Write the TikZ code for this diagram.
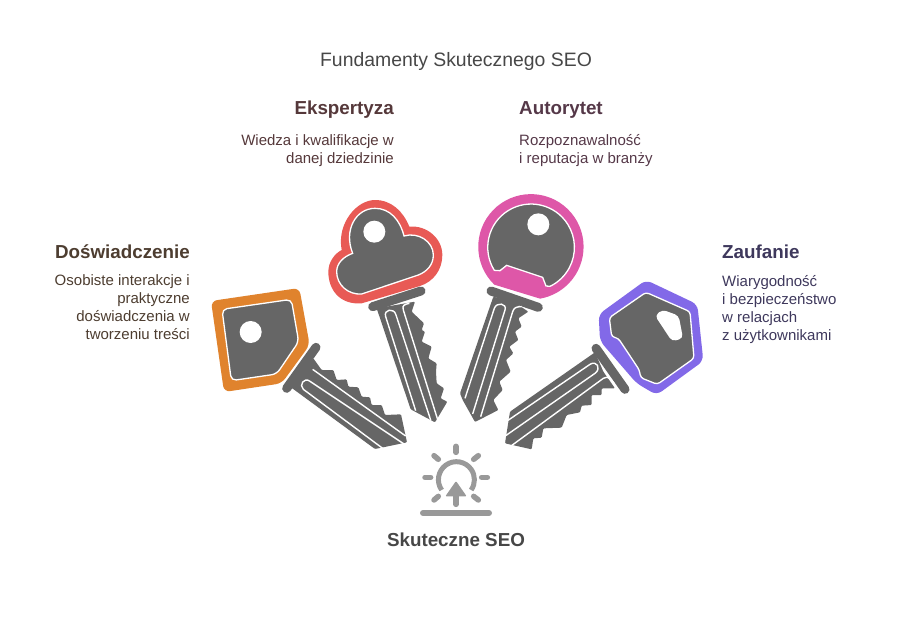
\documentclass[tikz,border=0pt]{standalone}
\usepackage{fontspec}
\setmainfont{Liberation Sans}
\usetikzlibrary{positioning}
\definecolor{keygrey}{HTML}{666666}
\definecolor{signgrey}{HTML}{999999}
\definecolor{orangerim}{HTML}{E0832D}
\definecolor{redrim}{HTML}{E85A55}
\definecolor{pinkrim}{HTML}{DE57A8}
\definecolor{purplerim}{HTML}{8269E8}
\tikzset{
  blade/.style={fill=keygrey, rounded corners=1pt},
  bow/.style={fill=keygrey, draw=white, line width=1.3pt},
  groove/.style={draw=white, line width=1.4pt},
  collar/.style={draw=keygrey, line width=9pt, line cap=round},
  eyelet/.style={fill=white},
  ray/.style={draw=signgrey, line width=5.5pt, line cap=round},
  head/.style={font=\fontsize{18.8}{22}\selectfont\bfseries},
  descr/.style={font=\fontsize{15}{18}\selectfont}
}
\begin{document}
\begin{tikzpicture}[x=1pt, y=-1pt]
    \useasboundingbox (0, 0) rectangle (912, 624);
    \node[anchor=base, text=black!72, font=\fontsize{19.4}{22}\selectfont] (ndTitle) at (456, 66) {Fundamenty Skutecznego SEO};

    % left key
    \begin{scope}[shift={(200, 280)}, scale=1/3]
      \fill[orangerim, rounded corners=6pt] (33, 63) -- (298, 24) -- (329, 195) -- (245, 310) -- (72, 336) -- cycle;
      \draw[bow, rounded corners=5pt] (66, 88) -- (274, 58) -- (296, 185) -- (230, 282) -- (94, 302) -- cycle;
      \fill[eyelet] (152, 156) circle (33);
      \fill[blade] (340, 235) -- (365, 270) -- (400, 270) -- (410, 300) -- (440, 298) -- (445, 320) -- (475, 322) -- (485, 350) -- (510, 352) -- (515, 375) -- (545, 375) -- (555, 405) -- (603, 403) -- (621, 487) -- (525, 507) -- (270, 320) -- cycle;
      \draw[collar] (348, 202) -- (260, 325);
      \draw[groove] (548, 505) -- (310, 328) .. controls (296, 316) and (312, 290) .. (330, 304) -- (612, 492);
      \draw[groove] (338, 268) -- (617, 468);
    \end{scope}

    % upper left key
    \begin{scope}[shift={(320, 190)}, scale=1/3]
      \fill[redrim] (125, 340) .. controls (60, 345) and (25, 300) .. (25, 245) .. controls (25, 215) and (45, 190) .. (65, 180) .. controls (50, 100) and (110, 30) .. (165, 30) .. controls (215, 30) and (250, 65) .. (268, 110) .. controls (320, 105) and (367, 145) .. (367, 195) .. controls (367, 240) and (340, 275) .. (300, 288) -- cycle;
      \draw[bow] (125, 312) .. controls (85, 315) and (50, 285) .. (50, 245) .. controls (50, 220) and (70, 200) .. (98, 190) .. controls (70, 120) and (108, 55) .. (165, 55) .. controls (210, 55) and (240, 90) .. (252, 138) .. controls (295, 125) and (340, 155) .. (340, 195) .. controls (340, 225) and (320, 245) .. (295, 255) -- cycle;
      \fill[eyelet] (163, 125) circle (33);
      \fill[blade] (170, 355) -- (272, 658) -- (345, 697) -- (382, 635) -- (362, 625) -- (372, 595) -- (350, 580) -- (348, 545) -- (350, 520) -- (325, 505) -- (335, 470) -- (305, 455) -- (315, 425) -- (305, 420) -- (312, 400) -- (275, 365) -- (285, 335) -- cycle;
      \draw[collar] (158, 350) -- (303, 303);
      \draw[groove] (287, 662) -- (197, 380) .. controls (190, 358) and (222, 352) .. (228, 375) -- (332, 690);
      \draw[groove] (268, 340) .. controls (255, 343) and (245, 345) .. (250, 360) -- (354, 692);
    \end{scope}

    % upper right key
    \begin{scope}[shift={(450, 190)}, scale=1/3]
      \fill[pinkrim] (133, 284) arc[start angle=134, end angle=440, radius=158] -- cycle;
      \draw[bow] (133, 241) arc[start angle=148, end angle=424, radius=130] -- (288, 288) -- (278, 262) -- (170, 226) -- (150, 242) -- cycle;
      \fill[eyelet] (265, 103) circle (33);
      \fill[blade] (130, 320) -- (30, 610) -- (38, 630) -- (75, 696) -- (145, 660) -- (130, 630) -- (158, 600) -- (148, 575) -- (182, 545) -- (168, 510) -- (190, 490) -- (178, 470) -- (205, 450) -- (195, 425) -- (215, 410) -- (205, 385) -- (235, 365) -- (190, 335) -- cycle;
      \draw[collar] (123, 303) -- (265, 352);
      \draw[groove] (45, 625) -- (133, 355) .. controls (140, 335) and (172, 340) .. (165, 360) -- (68, 672);
      \draw[groove] (215, 350) .. controls (200, 350) and (192, 352) .. (188, 365) -- (92, 680);
    \end{scope}

    % right key
    \begin{scope}[shift={(500, 275)}, scale=1/3]
      \fill[purplerim, rounded corners=6pt] (296, 118) -- (438, 15) -- (592, 88) -- (610, 258) -- (470, 360) -- (410, 325) -- (300, 198) -- cycle;
      \draw[bow, rounded corners=3pt] (328, 128) -- (438, 52) -- (570, 110) -- (582, 250) -- (472, 328) -- (422, 308) -- (418, 285) -- (355, 190) -- (335, 185) -- cycle;
      \fill[eyelet, rounded corners=4pt] (465, 122) -- (487, 104) -- (536, 122) -- (549, 190) -- (516, 199) -- cycle;
      \fill[blade] (285, 232) -- (30, 410) -- (15, 505) -- (95, 523) -- (100, 490) -- (125, 488) -- (130, 460) -- (185, 458) -- (200, 420) -- (240, 412) -- (245, 392) -- (275, 390) -- (275, 360) -- (305, 360) -- (305, 340) -- (345, 340) -- (310, 290) -- cycle;
      \draw[collar] (288, 220) -- (375, 343);
      \draw[groove] (24, 436) -- (270, 268) .. controls (290, 255) and (305, 280) .. (285, 295) -- (17, 482);
      \draw[groove] (33, 513) -- (310, 310) .. controls (325, 300) and (335, 315) .. (342, 325);
    \end{scope}

    % sign at the bottom
    \begin{scope}[shift={(380, 435)}, scale=1/3]
      \draw[signgrey, line width=5pt] (185, 165) arc[start angle=145, end angle=395, radius=54];
      \fill[signgrey, rounded corners=1pt] (228, 138) -- (260, 184) -- (196, 184) -- cycle;
      \draw[ray] (228, 180) -- (228, 208);
      \draw[ray] (228, 34) -- (228, 52);
      \draw[ray] (162, 62) -- (175, 73);
      \draw[ray] (295, 62) -- (281, 73);
      \draw[ray] (135, 127) -- (152, 127);
      \draw[ray] (305, 127) -- (322, 127);
      \draw[ray] (162, 195) -- (175, 184);
      \draw[ray] (295, 195) -- (281, 184);
      \draw[signgrey, line width=6pt, line cap=round] (129, 234) -- (327, 234);
    \end{scope}

    \node[head, anchor=base, text=black!72] (ndGoal) at (456, 546) {Skuteczne SEO};

    \node[head, anchor=base east, inner sep=0pt, text={rgb,255:red,77;green,61;blue,48}] (ndExperience) at (190, 258) {Doświadczenie};
    \node[descr, below=16.5pt of ndExperience.south east, anchor=north east, inner sep=0pt, align=right, text={rgb,255:red,77;green,61;blue,48}] (txtExperience) {Osobiste interakcje i\\praktyczne\\doświadczenia w\\tworzeniu treści};

    \node[head, anchor=base east, inner sep=0pt, text={rgb,255:red,85;green,56;blue,58}] (ndExpertise) at (394, 114) {Ekspertyza};
    \node[descr, below=16.5pt of ndExpertise.south east, anchor=north east, inner sep=0pt, align=right, text={rgb,255:red,85;green,56;blue,58}] (txtExpertise) {Wiedza i kwalifikacje w\\danej dziedzinie};

    \node[head, anchor=base west, inner sep=0pt, text={rgb,255:red,85;green,56;blue,72}] (ndAuthority) at (519, 114) {Autorytet};
    \node[descr, below=16.5pt of ndAuthority.south west, anchor=north west, inner sep=0pt, align=left, text={rgb,255:red,85;green,56;blue,72}] (txtAuthority) {Rozpoznawalność\\i reputacja w branży};

    \node[head, anchor=base west, inner sep=0pt, text={rgb,255:red,62;green,56;blue,92}] (ndTrust) at (722, 258) {Zaufanie};
    \node[descr, below=16.5pt of ndTrust.south west, anchor=north west, inner sep=0pt, align=left, text={rgb,255:red,62;green,56;blue,92}] (txtTrust) {Wiarygodność\\i bezpieczeństwo\\w relacjach\\z użytkownikami};
  \end{tikzpicture}
\end{document}
